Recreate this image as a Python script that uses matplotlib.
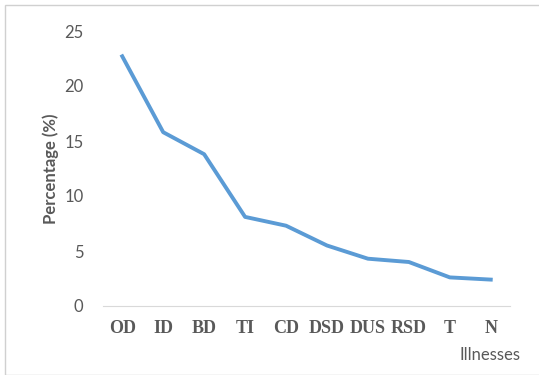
import matplotlib.pyplot as plt
from matplotlib.patches import Rectangle

illnesses = ['OD', 'ID', 'BD', 'TI', 'CD', 'DSD', 'DUS', 'RSD', 'T', 'N']
percentages = [22.7, 15.8, 13.8, 8.1, 7.3, 5.5, 4.3, 4.0, 2.6, 2.4]
y_ticks = [0, 5, 10, 15, 20, 25]

fig = plt.figure(figsize=(5.39, 3.75), dpi=100)
ax = fig.add_axes([103 / 539, 69 / 375, 407 / 539, 275 / 375])

# chart frame
fig.patches.append(Rectangle((5 / 539, 0), 540 / 539, 370 / 375, transform=fig.transFigure,
                             fill=False, edgecolor='#d0d0d0', linewidth=1.0))

x = range(len(illnesses))
ax.plot(x, percentages, color='#5b9bd5', linewidth=2.8, solid_joinstyle='round')

ax.set_xlim(-0.47, len(illnesses) - 0.53)
ax.set_ylim(0, 25)
ax.set_yticks(y_ticks)
ax.set_yticklabels([str(v) for v in y_ticks], fontsize=12, color='#595959', family='Lato')
ax.set_xticks(list(x))
ax.set_xticklabels(illnesses, fontsize=13, color='#595959', family='Liberation Serif',
                   fontweight='bold')
ax.tick_params(axis='both', length=0)
ax.tick_params(axis='y', pad=14)
ax.tick_params(axis='x', pad=10)

for side in ['top', 'right', 'left']:
    ax.spines[side].set_visible(False)
ax.spines['bottom'].set_color('#d9d9d9')

ax.set_ylabel('Percentage (%)', fontsize=12, fontweight='bold', color='#595959',
              family='Lato', labelpad=4)
fig.text(490 / 539, 20 / 375, 'Illnesses', fontsize=12, color='#595959',
         family='Lato', ha='center', va='center')

fig.savefig('out.png', dpi=100)
